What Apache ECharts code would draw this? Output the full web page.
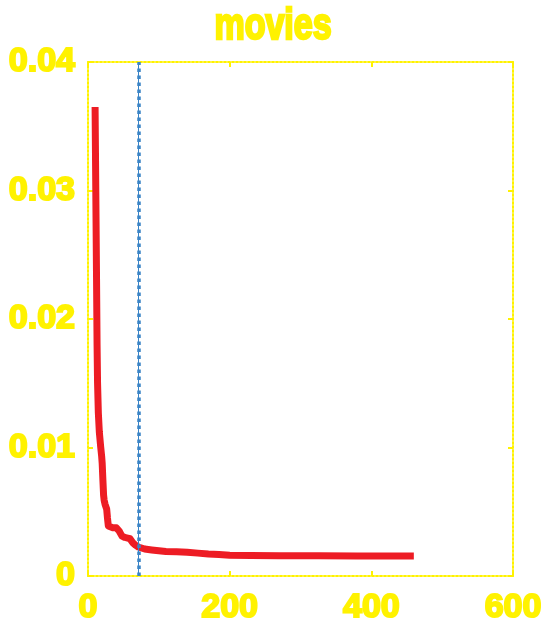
<!DOCTYPE html>
<html>
<head>
<meta charset="utf-8">
<script src="https://cdn.jsdelivr.net/npm/echarts@6/dist/echarts.min.js"></script>
<style>html,body{margin:0;padding:0;background:#fff;}#c{width:546px;height:626px;}</style>
</head>
<body>
<div id="c"></div>
<script>
var titleText = 'movies';
var xTicks = [0, 200, 400, 600];
var yTicks = [0, 0.01, 0.02, 0.03, 0.04];
var curveX = [10, 11, 12, 12.8, 13.5, 14.6, 16, 18, 19.3, 20, 21, 22, 22.8, 24, 26.4, 27.5, 28.7, 30, 35, 40, 42.8, 44, 46, 48, 52, 56, 59.3, 63, 67, 71, 80, 90, 100, 110, 125, 140, 155, 170, 185, 200, 230, 270, 326, 327, 380, 420, 460];
var curveY = [0.0365, 0.030, 0.0235, 0.018, 0.0150, 0.0127, 0.0112, 0.0100, 0.0093, 0.0088, 0.0075, 0.0063, 0.0059, 0.0056, 0.0052, 0.0045, 0.0039, 0.00378, 0.00376, 0.00375, 0.00372, 0.0035, 0.0033, 0.0031, 0.0030, 0.00295, 0.0029, 0.0026, 0.0024, 0.00226, 0.0021, 0.00203, 0.00196, 0.0019, 0.00188, 0.00185, 0.00178, 0.00172, 0.00168, 0.00162, 0.0016, 0.00157, 0.00158, 0.00155, 0.00155, 0.00155, 0.00155];
var cutoffX = 71;

var YEL = '#fff200';
var FONT = 'Liberation Sans';
var data = curveX.map(function (x, i) { return [x, curveY[i]]; });

var frameLine = { show: true, onZero: false, lineStyle: { color: YEL, width: 2, type: [2, 2] } };
var tick = { show: true, inside: true, length: 5, lineStyle: { color: YEL, width: 2 } };
var labelStyle = { color: YEL, fontSize: 34, fontWeight: 'bold', fontFamily: FONT, textBorderColor: YEL, textBorderWidth: 2 };

var chart = echarts.init(document.getElementById('c'), null, { renderer: 'canvas' });
chart.setOption({
  animation: false,
  backgroundColor: '#fff',
  graphic: [{
    type: 'text', left: 'center', top: 3, scaleY: 1.3, silent: true,
    style: { text: titleText, font: 'bold 34px "Liberation Sans"', fill: YEL, stroke: YEL, lineWidth: 2 }
  }],
  grid: { left: 88, right: 33, top: 62, bottom: 50, containLabel: false },
  xAxis: [
    {
      type: 'value', position: 'bottom', min: xTicks[0], max: xTicks[xTicks.length - 1], interval: 200,
      axisLine: frameLine, axisTick: tick, splitLine: { show: false },
      axisLabel: Object.assign({ margin: 15 }, labelStyle)
    },
    {
      type: 'value', position: 'top', min: xTicks[0], max: xTicks[xTicks.length - 1], interval: 200,
      axisLine: frameLine, axisTick: tick, splitLine: { show: false }, axisLabel: { show: false }
    }
  ],
  yAxis: [
    {
      type: 'value', position: 'left', min: yTicks[0], max: yTicks[yTicks.length - 1], interval: 0.01,
      axisLine: frameLine, axisTick: tick, splitLine: { show: false },
      axisLabel: Object.assign({ margin: 13 }, labelStyle)
    },
    {
      type: 'value', position: 'right', min: yTicks[0], max: yTicks[yTicks.length - 1], interval: 0.01,
      axisLine: frameLine, axisTick: tick, splitLine: { show: false }, axisLabel: { show: false }
    }
  ],
  series: [
    {
      type: 'line', xAxisIndex: 0, yAxisIndex: 0, data: data, showSymbol: false, symbol: 'none',
      lineStyle: { color: '#ed1c24', width: 7, join: 'round' },
      markLine: {
        silent: true, symbol: ['none', 'none'], label: { show: false },
        data: [
          { xAxis: cutoffX, lineStyle: { color: '#3a84c6', width: 1, type: 'solid' } },
          { xAxis: cutoffX, lineStyle: { color: '#3a84c6', width: 3.5, type: [3.5, 3.5] } }
        ]
      }
    }
  ]
});
</script>
</body>
</html>
